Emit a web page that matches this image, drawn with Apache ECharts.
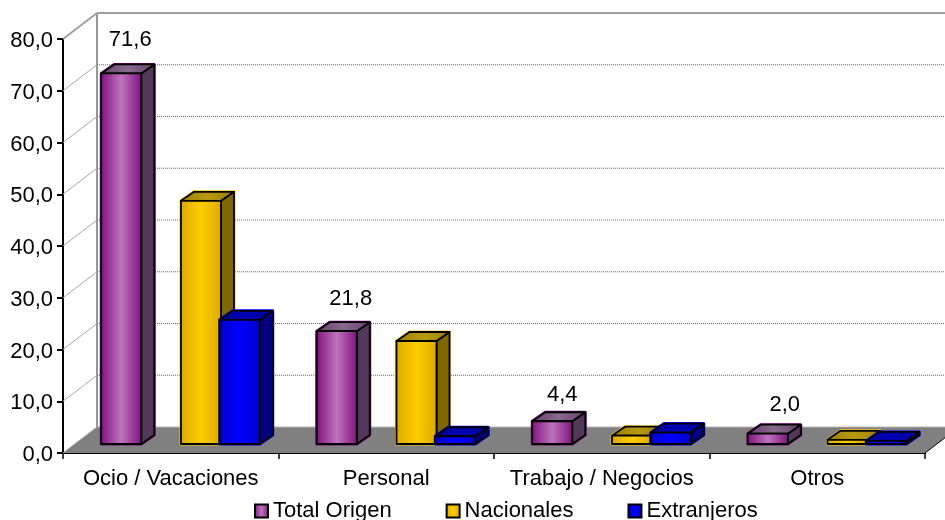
<!DOCTYPE html>
<html><head><meta charset="utf-8">
<style>html,body{margin:0;padding:0;background:#fff;overflow:hidden}#c{width:945px;height:520px}</style>
<script src="https://cdn.jsdelivr.net/npm/echarts@6/dist/echarts.min.js"></script>
</head><body><div id="c"></div>
<script>
const categories = ['Ocio / Vacaciones', 'Personal', 'Trabajo / Negocios', 'Otros'];
const totalOrigen = [71.6, 21.8, 4.4, 2.0];
const nacionales = [47.0, 19.9, 1.6, 0.8];
const extranjeros = [24.0, 1.5, 2.2, 0.6];
const yTicks = [10, 20, 30, 40, 50, 60, 70, 80];

const WALL = {dx: 34, dy: 26};
const BAR = {inX: 0, inY: 9, w: 40, dx: 13, dy: 9};
const labelNudge = [[9, -35], [14, -33], [10, -27], [17, -30]];
const fmt = v => v.toFixed(1).replace('.', ',');
const grad = (edge, mid) => ({type:'linear',x:0,y:0,x2:1,y2:0,colorStops:[
  {offset:0,color:edge},{offset:.5,color:mid},{offset:1,color:edge}]});
const looks = {
  total: {front: grad('#80107f','#bb74bb'), side:'#52385a', top: grad('#6c3f70','#866a8c'), glow:'#800080', offset:-69.5},
  nac:   {front: grad('#d9a900','#ffcc00'), side:'#806600', top: grad('#9c7e00','#b89a10'), glow:'#ffcc00', offset:10.25},
  ext:   {front: grad('#0000c8','#0000ff'), side:'#000080', top: grad('#00009c','#0000b4'), glow:'#0000ff', offset:49.0}
};
function barRenderer(look, withLabel) {
  return function (params, api) {
    const i = api.value(0), v = api.value(1);
    const top = api.coord([i, v]), base = api.coord([i, 0]);
    const x0 = top[0] + look.offset, x1 = x0 + BAR.w;
    const yT = top[1] - BAR.inY, yB = base[1] - BAR.inY;
    const d = BAR;
    const stroke = {stroke:'#000', lineWidth:1.8, lineJoin:'round'};
    const poly = (pts, fill, st) => ({type:'polygon', shape:{points:pts}, style:Object.assign({fill:fill}, st || stroke)});
    const kids = [
      poly([[x0,yB],[x0,yT],[x0+d.dx,yT-d.dy],[x1+d.dx,yT-d.dy],[x1+d.dx,yB-d.dy],[x1,yB]], 'none', {stroke:look.glow, lineWidth:3, lineJoin:'round'}),
      poly([[x1,yT],[x1+d.dx,yT-d.dy],[x1+d.dx,yB-d.dy],[x1,yB]], look.side),
      poly([[x0,yT],[x0+d.dx,yT-d.dy],[x1+d.dx,yT-d.dy],[x1,yT]], look.top),
      poly([[x0,yT],[x1,yT],[x1,yB],[x0,yB]], look.front)
    ];
    if (withLabel) {
      const n = labelNudge[i];
      kids.push({type:'text', style:{text:fmt(v), x:x0+BAR.w/2+n[0], y:yT+n[1]+1, fill:'#000',
        font:'22px "Liberation Sans"', textAlign:'center', textVerticalAlign:'middle'}});
    }
    return {type:'group', children:kids};
  };
}
function wallRenderer(params, api) {
  const cs = params.coordSys;
  const v = api.value(0);
  const y = api.coord([0, v])[1];
  const left = cs.x, right = cs.x + cs.width;
  const kids = [];
  const line = (a, b, st) => ({type:'line', shape:{x1:a[0],y1:a[1],x2:b[0],y2:b[1]}, style:st});
  if (v === 0) {
    const by = y - WALL.dy;
    kids.push({type:'polygon', shape:{points:[[left,y],[left+WALL.dx,by],[right+WALL.dx,by],[right,y]]},
      style:{fill:'#808080', stroke:'none'}});
    kids.push(line([left+WALL.dx,by],[right+WALL.dx,by],{stroke:'#b4b4b4',lineWidth:1}));
    kids.push(line([left,y],[left+WALL.dx,by],{stroke:'#a0a0a0',lineWidth:1}));
    kids.push(line([right,y],[right+WALL.dx,by],{stroke:'#000',lineWidth:1}));
    kids.push(line([left+WALL.dx,by],[left+WALL.dx,cs.y-WALL.dy],{stroke:'#969696',lineWidth:2}));
  } else if (v === 80) {
    kids.push(line([left,y],[left+WALL.dx,y-WALL.dy],{stroke:'#a0a0a0',lineWidth:2}));
    kids.push(line([left+WALL.dx,y-WALL.dy],[right+WALL.dx,y-WALL.dy],{stroke:'#a0a0a0',lineWidth:2}));
  } else {
    kids.push(line([left,y],[left+WALL.dx,y-WALL.dy],{stroke:'#a8a8a8',lineWidth:1}));
    kids.push(line([left+WALL.dx,y-WALL.dy],[right+WALL.dx,y-WALL.dy],{stroke:'#666',lineWidth:1,lineDash:[1,1]}));
  }
  return {type:'group', children:kids};
}
const pairs = arr => arr.map((v, i) => [i, v]);
const baseFont = {fontFamily:'Liberation Sans', fontSize:22, color:'#000'};
const legendIcon = (fill) => ({color:fill, borderColor:'#000', borderWidth:2});
const chart = echarts.init(document.getElementById('c'), null, {renderer:'canvas'});
chart.setOption({
  animation:false,
  backgroundColor:'#fff',
  grid:{left:63, right:20, top:39, bottom:67, containLabel:false},
  legend:{
    left:249, top:495, itemWidth:13, itemHeight:13, itemGap:54, icon:'rect',
    textStyle:Object.assign({}, baseFont),
    data:[
      {name:'Total Origen', itemStyle:legendIcon(looks.total.front)},
      {name:'Nacionales', itemStyle:legendIcon(looks.nac.front)},
      {name:'Extranjeros', itemStyle:legendIcon(looks.ext.front)}
    ]
  },
  xAxis:{type:'category', data:categories,
    axisLine:{lineStyle:{color:'#000',width:2}},
    axisTick:{show:true, alignWithLabel:false, length:6, lineStyle:{color:'#000',width:1.5}},
    axisLabel:Object.assign({margin:15, interval:0}, baseFont)},
  yAxis:{type:'value', min:0, max:80, interval:10,
    axisLine:{show:true, lineStyle:{color:'#000',width:2}},
    axisTick:{show:true, length:6, lineStyle:{color:'#000',width:2}},
    splitLine:{show:false},
    axisLabel:Object.assign({margin:10, formatter:v => '{a|' + fmt(v) + '}',
      rich:{a:Object.assign({padding:[4,0,0,0]}, baseFont)}}, baseFont)},
  series:[
    {type:'custom', name:'walls', z:1, silent:true, renderItem:wallRenderer,
      encode:{y:0}, data:[0].concat(yTicks).map(v => [v])},
    {type:'custom', name:'Total Origen', z:3, renderItem:barRenderer(looks.total, true), encode:{x:0,y:1}, data:pairs(totalOrigen)},
    {type:'custom', name:'Nacionales', z:4, renderItem:barRenderer(looks.nac, false), encode:{x:0,y:1}, data:pairs(nacionales)},
    {type:'custom', name:'Extranjeros', z:5, renderItem:barRenderer(looks.ext, false), encode:{x:0,y:1}, data:pairs(extranjeros)}
  ]
});
</script></body></html>
